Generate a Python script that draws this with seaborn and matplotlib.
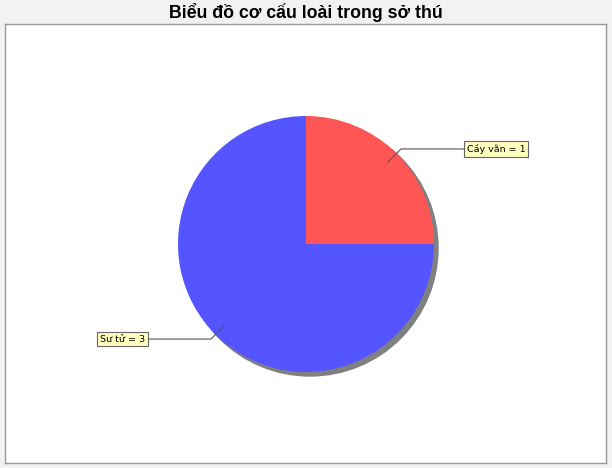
import numpy as np
import matplotlib
matplotlib.use('Agg')
import matplotlib.pyplot as plt
import seaborn as sns
from matplotlib.patches import Circle

sns.set_style('white')
plt.rcParams['font.family'] = ['Liberation Sans', 'DejaVu Sans']

# dữ liệu
loai = ['Cầy vằn', 'Sư tử']
so_luong = [1, 3]
mau = ['#FF5555', '#5555FF']
tieu_de = 'Biểu đồ cơ cấu loài trong sở thú'

W, H = 612, 468
fig = plt.figure(figsize=(W / 100, H / 100), dpi=100, facecolor='#F2F2F2')

# vùng vẽ trắng có viền xám
bg = fig.add_axes([5 / W, 5 / H, 601 / W, 439 / H])
bg.set_facecolor('white')
bg.set_xticks([])
bg.set_yticks([])
for s in bg.spines.values():
    s.set_color('#999999')
    s.set_linewidth(1)

fig.text(306 / W, 1 - 12 / H, tieu_de, ha='center', va='center',
         fontsize=12.8, fontweight='bold', color='black')

# trục cho biểu đồ tròn
r_px = 128
cx, cy = 306, 244
ax = fig.add_axes([(cx - r_px) / W, (H - cy - r_px) / H, 2 * r_px / W, 2 * r_px / H])
ax.axis('off')
ax.patch.set_alpha(0)

# bóng
off = 4 / r_px
ax.add_patch(Circle((off, -off), 1, color='#808080', zorder=0, clip_on=False))

wedges, _ = ax.pie(so_luong, colors=mau, startangle=90, counterclock=False,
                   radius=1, wedgeprops=dict(linewidth=0))
ax.set_xlim(-1, 1)
ax.set_ylim(-1, 1)
for w in wedges:
    w.set_clip_on(False)
    w.set_zorder(1)

for w, ten, v in zip(wedges, loai, so_luong):
    ang = np.deg2rad((w.theta1 + w.theta2) / 2)
    c, s = np.cos(ang), np.sin(ang)
    p0 = (0.9 * c, 0.9 * s)
    p1 = (1.05 * c, 1.05 * s)
    sign = 1 if c >= 0 else -1
    xb = sign * 1.258
    ax.plot([p0[0], p1[0], xb], [p0[1], p1[1], p1[1]], color='#555555',
            lw=0.8, clip_on=False, zorder=3)
    ax.text(xb, p1[1], f'{ten} = {v}', ha='left' if sign > 0 else 'right',
            va='center', fontsize=6.8, color='black', zorder=4, clip_on=False,
            family=['DejaVu Sans'],
            bbox=dict(boxstyle='square,pad=0.28', fc='#FFFFC0', ec='#666666', lw=0.8))

fig.savefig('out.png', dpi=100, facecolor=fig.get_facecolor())
